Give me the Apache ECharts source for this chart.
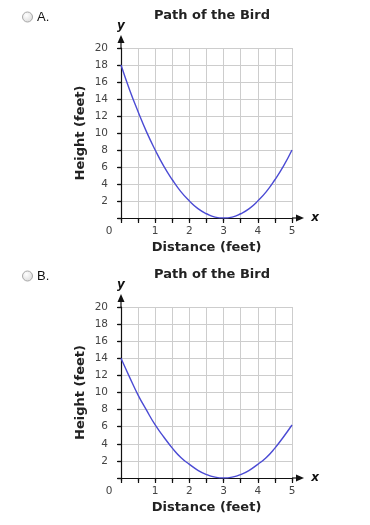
<!DOCTYPE html>
<html>
<head>
<meta charset="utf-8">
<script src="https://cdn.jsdelivr.net/npm/echarts@6/dist/echarts.min.js"></script>
<style>
html,body{margin:0;padding:0;background:#fff;}
#c{width:370px;height:525px;}
</style>
</head>
<body>
<div id="c"></div>
<script>
// ---- data ----
const optionLabels = ['A.', 'B.'];
const chartTitles = ['Path of the Bird', 'Path of the Bird'];
const xName = 'Distance (feet)';
const yName = 'Height (feet)';
const distance = [0, 0.25, 0.5, 0.75, 1, 1.25, 1.5, 1.75, 2, 2.25, 2.5, 2.75, 3, 3.25, 3.5, 3.75, 4, 4.25, 4.5, 4.75, 5];
const heightA = [18, 15.1, 12.5, 10.1, 8, 6.1, 4.5, 3.1, 2, 1.1, 0.5, 0.1, 0, 0.1, 0.5, 1.1, 2, 3.1, 4.5, 6.1, 8];
const heightB = [14, 11.8, 9.7, 7.9, 6.2, 4.8, 3.5, 2.4, 1.6, 0.9, 0.4, 0.1, 0, 0.1, 0.4, 0.9, 1.6, 2.4, 3.5, 4.8, 6.2];
const xTickLabels = ['1', '2', '3', '4', '5'];
const yTickLabels = ['2', '4', '6', '8', '10', '12', '14', '16', '18', '20'];
const originLabel = '0';

const FONT = 'DejaVu Sans';
const chart = echarts.init(document.getElementById('c'), null, {renderer: 'canvas'});

const grids = [
  {left: 121, top: 48, width: 171, height: 170},
  {left: 121, top: 307, width: 171, height: 171}
];

function mainX(i) {
  return {
    type: 'value', gridIndex: i, min: 0, max: 5, interval: 0.5,
    name: xName, nameLocation: 'middle', nameGap: 23,
    nameTextStyle: {fontFamily: FONT, fontWeight: 'bold', fontSize: 13, color: '#222'},
    axisLine: {onZero: false, lineStyle: {color: '#111', width: 1.2}},
    axisTick: {show: true, inside: false, length: 5, lineStyle: {color: '#111', width: 1.2}},
    axisLabel: {
      margin: 8, fontFamily: FONT, fontSize: 10.5, color: '#444', showMinLabel: true, showMaxLabel: true,
      formatter: v => { const s = String(v); return xTickLabels.includes(s) ? s : ''; }
    },
    splitLine: {show: true, lineStyle: {color: '#cdcdcd', width: 1}}
  };
}
function overX(i) {
  return {
    type: 'value', gridIndex: i, min: 0, max: 5, interval: 0.5,
    axisLine: {show: false}, axisLabel: {show: false}, splitLine: {show: false},
    axisTick: {show: true, inside: true, length: 3, lineStyle: {color: '#111', width: 1.2}}
  };
}
function mainY(i) {
  return {
    type: 'value', gridIndex: i, min: 0, max: 20, interval: 2,
    name: yName, nameLocation: 'middle', nameGap: 34, nameRotate: 90,
    nameTextStyle: {fontFamily: FONT, fontWeight: 'bold', fontSize: 13, color: '#222'},
    axisLine: {onZero: false, lineStyle: {color: '#111', width: 1.2}},
    axisTick: {show: true, inside: false, length: 4, lineStyle: {color: '#111', width: 1.2}},
    axisLabel: {
      margin: 13, fontFamily: FONT, fontSize: 10.5, color: '#444',
      formatter: v => { const s = String(v); return yTickLabels.includes(s) ? s : ''; }
    },
    splitLine: {show: true, lineStyle: {color: '#cdcdcd', width: 1}}
  };
}
function overY(i) {
  return {
    type: 'value', gridIndex: i, min: 0, max: 20, interval: 2,
    axisLine: {show: false}, axisLabel: {show: false}, splitLine: {show: false},
    axisTick: {show: true, inside: true, length: 3, lineStyle: {color: '#111', width: 1.2}}
  };
}

const seriesData = [heightA, heightB];

chart.setOption({
  animation: false,
  backgroundColor: '#fff',
  title: chartTitles.map((t, i) => ({
    text: t, left: 207, top: i === 0 ? 4 : 263, textAlign: 'center',
    textStyle: {fontFamily: FONT, fontWeight: 'bold', fontSize: 13, color: '#222'}
  })),
  grid: grids,
  xAxis: [mainX(0), mainX(1), overX(0), overX(1)],
  yAxis: [mainY(0), mainY(1), overY(0), overY(1)],
  series: seriesData.map((d, i) => ({
    type: 'line', xAxisIndex: i, yAxisIndex: i, smooth: true, showSymbol: false,
    lineStyle: {color: '#4b4bd4', width: 1.4},
    data: distance.map((x, k) => [x, d[k]])
  }))
});

// axis arrows, axis letters, origin label and option markers, placed from the library's own scales
const g = [];
[0, 1].forEach(i => {
  const o = chart.convertToPixel({gridIndex: i}, [0, 0]);
  const top = chart.convertToPixel({gridIndex: i}, [0, 20]);
  const right = chart.convertToPixel({gridIndex: i}, [5, 0]);
  // y axis extension + arrow
  g.push({type: 'line', shape: {x1: top[0], y1: top[1], x2: top[0], y2: top[1] - 8}, style: {stroke: '#111', lineWidth: 1.2}});
  g.push({type: 'polygon', shape: {points: [[top[0], top[1] - 13], [top[0] - 3.5, top[1] - 5], [top[0] + 3.5, top[1] - 5]]}, style: {fill: '#111'}});
  // x axis extension + arrow
  g.push({type: 'line', shape: {x1: right[0], y1: right[1], x2: right[0] + 7, y2: right[1]}, style: {stroke: '#111', lineWidth: 1.2}});
  g.push({type: 'polygon', shape: {points: [[right[0] + 12, right[1]], [right[0] + 4, right[1] - 3.5], [right[0] + 4, right[1] + 3.5]]}, style: {fill: '#111'}});
  // axis letters
  g.push({type: 'text', style: {text: 'y', x: top[0], y: top[1] - 22, align: 'center', verticalAlign: 'middle', font: 'italic bold 12px "DejaVu Sans"', fill: '#111'}});
  g.push({type: 'text', style: {text: 'x', x: right[0] + 23, y: right[1], align: 'center', verticalAlign: 'middle', font: 'italic bold 12px "DejaVu Sans"', fill: '#111'}});
  // origin label
  g.push({type: 'text', style: {text: originLabel, x: o[0] - 12, y: o[1] + 13, align: 'center', verticalAlign: 'middle', font: '10.5px "DejaVu Sans"', fill: '#444'}});
  // radio button and option letter
  const ty = top[1] - 31;
  g.push({type: 'circle', shape: {cx: 27.5, cy: ty, r: 5}, style: {
    fill: new echarts.graphic.RadialGradient(0.4, 0.35, 0.8, [{offset: 0, color: '#ffffff'}, {offset: 1, color: '#d4d4d4'}]),
    stroke: '#a8a8a8', lineWidth: 1}});
  g.push({type: 'text', style: {text: optionLabels[i], x: 37, y: ty, align: 'left', verticalAlign: 'middle', font: '13px "Liberation Sans"', fill: '#111'}});
});
chart.setOption({graphic: g});
</script>
</body>
</html>
